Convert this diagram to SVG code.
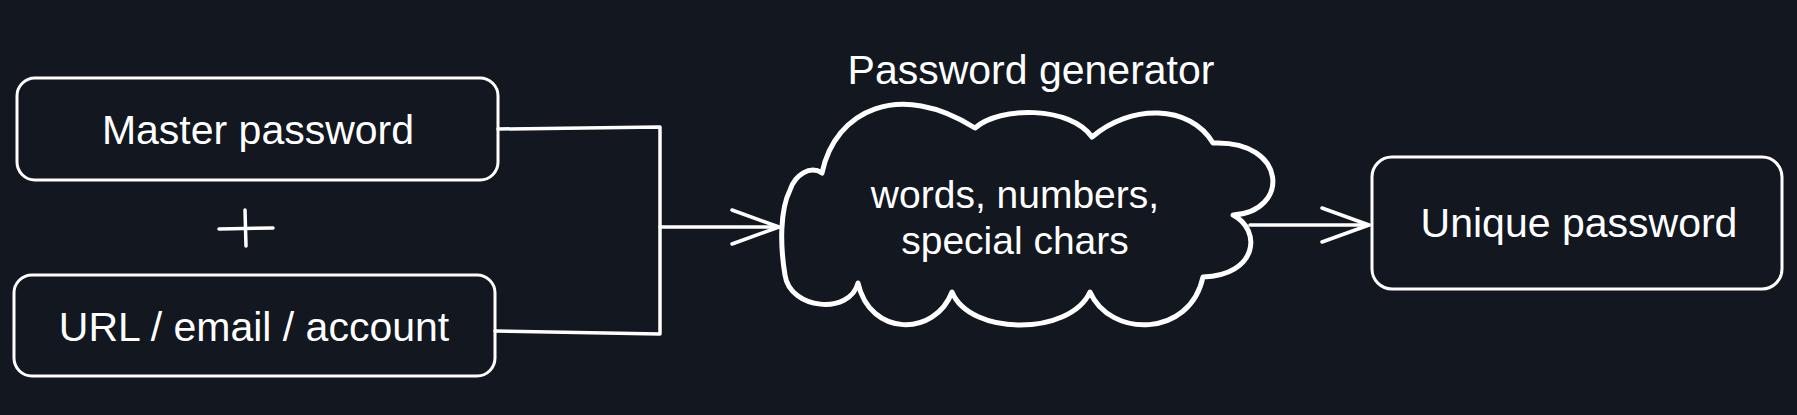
<svg xmlns="http://www.w3.org/2000/svg" width="1797" height="415" viewBox="0 0 1797 415">
<defs>
<style>
.box{fill:none;stroke:#ffffff;stroke-width:3;stroke-linejoin:round}
.line{fill:none;stroke:#ffffff;stroke-width:3.5;stroke-linecap:round;stroke-linejoin:round}
.cloud{fill:none;stroke:#ffffff;stroke-width:5;stroke-linejoin:round}
.lbl{font-family:"Liberation Sans",Arial,sans-serif;font-size:41px;fill:#ffffff;text-anchor:middle}
</style>
<marker id="arr" markerUnits="userSpaceOnUse" viewBox="0 0 52 40" refX="49" refY="20" markerWidth="52" markerHeight="40" orient="auto">
<path d="M2,3 L49,20 L2,37" fill="none" stroke="#ffffff" stroke-width="3.5" stroke-linecap="round" stroke-linejoin="round"/>
</marker>
</defs>
<rect width="1797" height="415" fill="#121720"/>
<g id="master">
<rect class="box" x="17" y="78" width="481" height="102" rx="18"/>
<text class="lbl" x="258" y="144">Master password</text>
</g>
<g id="plus">
<path class="line" d="M219,229 L273,228 M245,210 L246,246"/>
</g>
<g id="url">
<rect class="box" x="14" y="275" width="481" height="101" rx="18"/>
<text class="lbl" x="254" y="341">URL / email / account</text>
</g>
<g id="generator">
<text class="lbl" x="1031" y="84">Password generator</text>
<path class="cloud" d="M822,173 C835,110 900,80 975,128 C1000,106 1070,106 1092,137 C1130,104 1190,104 1213,143 C1288,140 1290,212 1233,215 C1262,230 1258,275 1203,277 C1190,338 1110,338 1090,292 C1070,336 970,336 952,292 C935,337 870,337 858,283 C850,315 790,310 785,275 C780,245 780,210 790,190 C795,175 810,165 822,173 Z"/>
<text class="lbl" x="1015" y="208" style="font-size:39px">words, numbers,</text>
<text class="lbl" x="1015" y="254" style="font-size:39px">special chars</text>
</g>
<g id="unique">
<rect class="box" x="1372" y="157" width="410" height="132" rx="20"/>
<text class="lbl" x="1579" y="237">Unique password</text>
</g>
<g id="connectors">
<path class="line" d="M498,129 L660,127 L660,334 L495,331"/>
<path class="line" d="M660,227 L779,227" marker-end="url(#arr)"/>
<path class="line" d="M1250,225 L1369,225" marker-end="url(#arr)"/>
</g>
</svg>
